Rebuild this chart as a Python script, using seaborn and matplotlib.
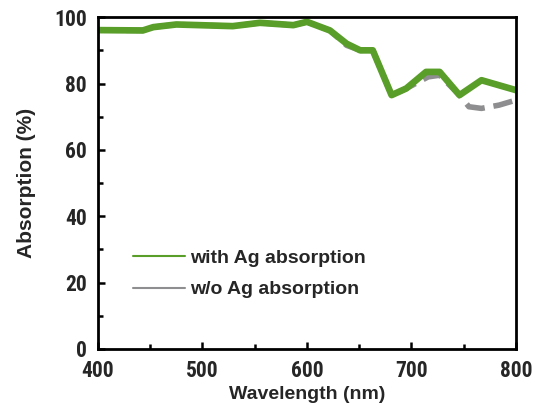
import matplotlib
matplotlib.use("Agg")
import matplotlib.pyplot as plt
from matplotlib.lines import Line2D
from matplotlib.ticker import MultipleLocator
import seaborn as sns
import pandas as pd

wl_with = [400, 443, 453, 475, 529, 555, 587, 600, 622, 638, 651, 663, 681, 695, 714, 727, 746, 767, 800]
abs_with = [96.1, 96.0, 97.0, 97.8, 97.3, 98.3, 97.6, 98.6, 96.0, 92.0, 90.0, 90.0, 76.5, 78.5, 83.5, 83.5, 76.5, 81.0, 78.0]

wl_wo = [400, 443, 453, 475, 529, 555, 587, 600, 622, 638, 651, 663, 681, 695, 716, 727, 746, 755, 767, 784, 800]
abs_wo = [96.1, 96.0, 97.0, 97.8, 97.3, 98.3, 97.6, 98.6, 96.0, 91.5, 90.0, 90.0, 76.5, 78.5, 82.0, 82.5, 76.5, 73.0, 72.5, 73.5, 75.0]

labels = ["with Ag absorption", "w/o Ag absorption"]
green = "#5a9e2a"
gray = "#8e8e90"

sns.set_style("white")
plt.rcParams['font.family'] = ['Liberation Sans', 'DejaVu Sans']

fig, ax = plt.subplots(figsize=(5.38, 4.09), dpi=100)
fig.subplots_adjust(left=0.182, right=0.959, top=0.958, bottom=0.147)

df_wo = pd.DataFrame({"wl": wl_wo, "a": abs_wo})
df_with = pd.DataFrame({"wl": wl_with, "a": abs_with})
sns.lineplot(data=df_wo, x="wl", y="a", ax=ax, color=gray, linewidth=4.0,
             dashes=False, sort=False)
ax.lines[-1].set_dashes((3.5, 1.6))
sns.lineplot(data=df_with, x="wl", y="a", ax=ax, color=green, linewidth=4.8, sort=False)

ax.set_xlim(400, 800)
ax.set_ylim(0, 100)
ax.xaxis.set_major_locator(MultipleLocator(100))
ax.xaxis.set_minor_locator(MultipleLocator(50))
ax.yaxis.set_major_locator(MultipleLocator(20))
ax.yaxis.set_minor_locator(MultipleLocator(10))
ax.tick_params(which="both", direction="in", top=False, right=False, bottom=True, left=True,
               width=1.8, color="black")
ax.tick_params(which="major", length=5, labelsize=15.5)
ax.tick_params(axis="x", which="major", pad=8)
ax.tick_params(axis="y", which="major", pad=8)
ax.tick_params(which="minor", length=3.5)
for lab in ax.get_xticklabels() + ax.get_yticklabels():
    lab.set_fontweight("bold")
    lab.set_family(['Roboto Condensed', 'Liberation Sans'])
for s in ax.spines.values():
    s.set_visible(True)
    s.set_linewidth(2.0)
    s.set_color("black")

ax.set_xlabel("Wavelength (nm)", fontsize=14, fontweight="bold", labelpad=3)
ax.set_ylabel("Absorption (%)", fontsize=15, fontweight="bold", labelpad=13)

handles = [Line2D([], [], color=green, lw=1.5), Line2D([], [], color=gray, lw=1.5)]
ax.legend(handles, labels, loc="center left", bbox_to_anchor=(0.083, 0.226), frameon=False,
          prop={"size": 14, "weight": "bold"}, handlelength=2.7, handletextpad=0.25,
          labelspacing=0.7, borderpad=0, borderaxespad=0)

fig.savefig("out.png", dpi=100)
